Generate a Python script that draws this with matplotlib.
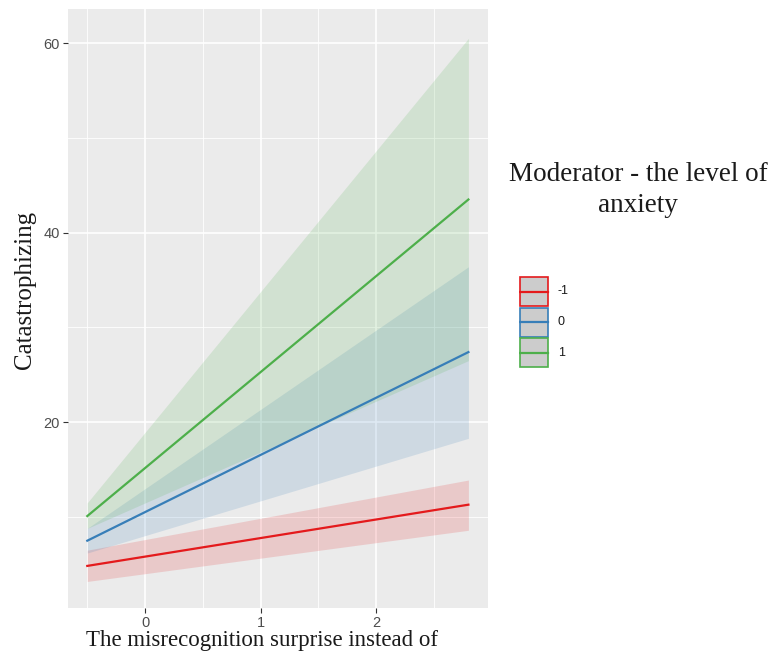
import matplotlib.pyplot as plt
from matplotlib.patches import Rectangle

# moderator levels and fitted lines (endpoints of x range)
levels = ["-1", "0", "1"]
colors = ["#E41A1C", "#377EB8", "#4DAF4A"]
x_ends = [-0.5, 2.8]
fit = {"-1": [4.84, 11.3], "0": [7.5, 27.4], "1": [10.1, 43.5]}
lower = {"-1": [3.2, 8.6], "0": [6.2, 18.3], "1": [8.8, 26.5]}
upper = {"-1": [6.5, 13.9], "0": [8.8, 36.4], "1": [11.5, 60.5]}

xticks = [0, 1, 2]
yticks = [20, 40, 60]

fig = plt.figure(figsize=(7.78, 6.57), dpi=100)
ax = fig.add_axes([0.0874, 0.0746, 0.5399, 0.9117])
ax.set_facecolor("#EBEBEB")

for lev, c in zip(levels, colors):
    ax.fill_between(x_ends, lower[lev], upper[lev], color=c, alpha=0.16, lw=0)
for lev, c in zip(levels, colors):
    ax.plot(x_ends, fit[lev], color=c, lw=1.6)

ax.set_xlim(-0.667, 2.97)
ax.set_ylim(0.4, 63.6)
ax.set_xticks(xticks)
ax.set_yticks(yticks)
ax.set_xticks([-0.5, 0.5, 1.5, 2.5], minor=True)
ax.set_yticks([10, 30, 50], minor=True)
ax.grid(which="major", color="white", lw=1.2)
ax.grid(which="minor", color="white", lw=0.6)
ax.set_axisbelow(True)
for s in ax.spines.values():
    s.set_visible(False)
ax.tick_params(which="major", length=3.5, color="#333333", labelcolor="#4D4D4D",
               labelsize=10.5, pad=2.5)
ax.tick_params(which="minor", length=0)
for lab in ax.get_xticklabels() + ax.get_yticklabels():
    lab.set_family("Liberation Sans")

fig.text(0.337, 0.025, "The misrecognition surprise instead of", family="Liberation Serif",
         fontsize=16.5, ha="center", va="center", color="#1a1a1a")
fig.text(0.032, 0.558, "Catastrophizing", family="Liberation Serif", fontsize=18,
         rotation=90, ha="center", va="center", color="#1a1a1a")

fig.text(0.82, 0.711, "Moderator - the level of\nanxiety", family="Liberation Serif",
         fontsize=19.5, ha="center", va="center", linespacing=1.35, color="#1a1a1a")

# legend keys drawn in a small axes (units ~ pixels)
lax = fig.add_axes([519 / 778, (657 - 370) / 657, 70 / 778, 94 / 657])
lax.set_xlim(0, 70)
lax.set_ylim(94, 0)
lax.axis("off")
for i, (lev, c) in enumerate(zip(levels, colors)):
    top = 1 + i * 30.6
    lax.add_patch(Rectangle((0.5, top), 28.5, 29, facecolor="#CCCCCC", edgecolor=c, lw=1.2))
    lax.plot([0.5, 29], [top + 14.5, top + 14.5], color=c, lw=1.6)
    lax.text(39, top + 14.5, lev, family="Liberation Sans", fontsize=9,
             va="center", ha="left", color="#1a1a1a")

fig.savefig("out.png", dpi=100)
